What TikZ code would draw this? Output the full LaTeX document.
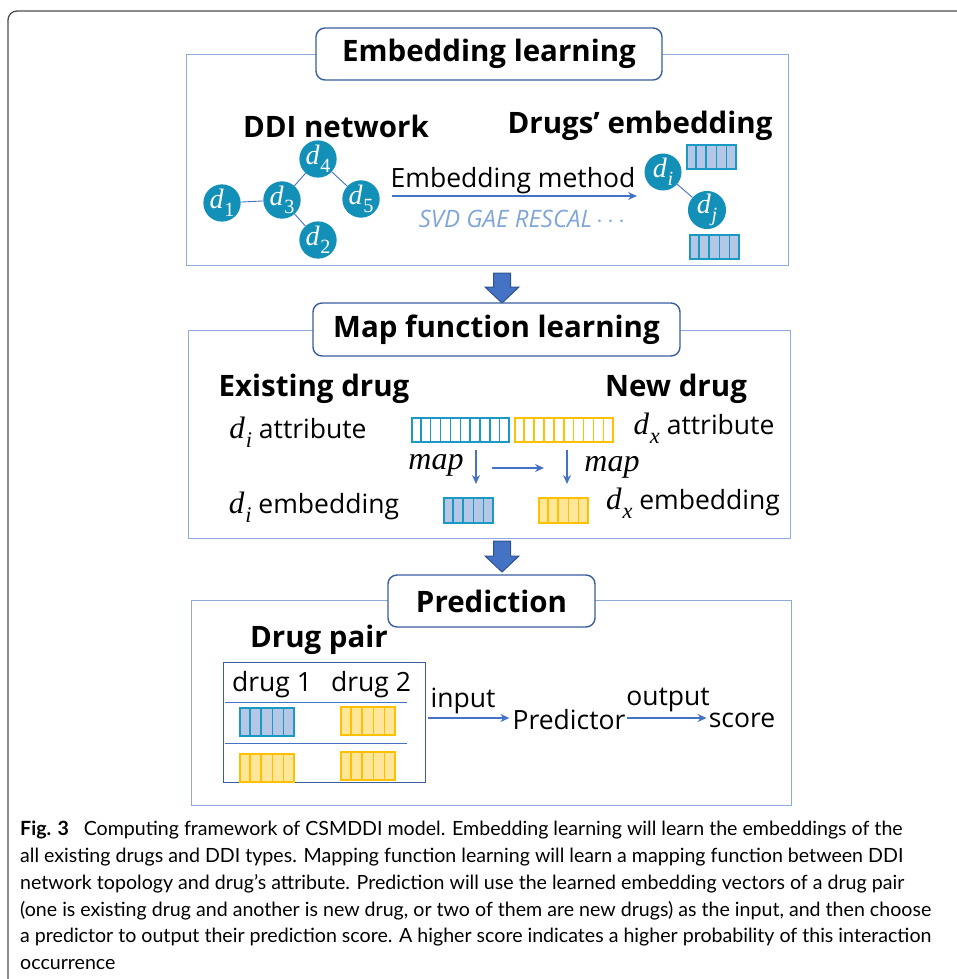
\documentclass[tikz,border=0pt]{standalone}
\usepackage{fontspec}
\setmainfont{Open Sans}
\newfontfamily\capfont{Lato}
\newfontfamily\mfont{Liberation Serif}
\usetikzlibrary{calc,arrows.meta}
\definecolor{tealn}{HTML}{1390B8}
\definecolor{tealb}{HTML}{1A9AC2}
\definecolor{bluef}{HTML}{B4C7E7}
\definecolor{yelb}{HTML}{FFC000}
\definecolor{yelf}{HTML}{FFE699}
\definecolor{arrb}{HTML}{4472C4}
\definecolor{boxl}{HTML}{8FAADC}
\definecolor{titb}{HTML}{3A5DA0}
\definecolor{blkd}{HTML}{2F528F}
\definecolor{svdc}{HTML}{7FA6D9}
\newcommand\mybar[8]{% name, x, y, w, h, cells, fill, draw
  \node[draw=#8, fill=#7, line width=1.5pt, minimum width=#4pt, minimum height=#5pt, inner sep=0pt, anchor=north west] (#1) at (#2,#3) {};
  \foreach \k in {1,...,#6}{\ifnum\k<#6
    \draw[#8, line width=1.5pt] ($(#1.north west)!{\k/#6}!(#1.north east)$) -- ($(#1.south west)!{\k/#6}!(#1.south east)$);\fi}}
\newcommand\blockarr[3]{%
  \draw[fill=arrb, draw=blkd, line width=1pt] (#1-8.5,#2) -- (#1+8.5,#2) -- (#1+8.5,#3-16) -- (#1+17,#3-16) -- (#1,#3) -- (#1-17,#3-16) -- (#1-8.5,#3-16) -- cycle;}
% italic letter with subscript, in a Cambria-like serif
\newcommand\msub[2]{{\mfont\itshape #1\kern0.03em\raisebox{-0.3em}{\scalebox{0.72}{#2}}}}
\newcommand\lsub[2]{{\fontsize{31}{31}\selectfont\msub{#1}{#2}}}
\tikzset{
  outerbox/.style={draw=boxl, line width=1.3pt, inner sep=0pt, anchor=north west},
  titlebox/.style={draw=titb, fill=white, line width=1.4pt, rounded corners=9pt, inner sep=0pt, font=\fontsize{29.5}{33}\selectfont\bfseries},
  head/.style={font=\fontsize{29.5}{32}\selectfont\bfseries, inner sep=0pt},
  lab/.style={font=\fontsize{26.5}{29}\selectfont, inner sep=0pt},
  dnode/.style={circle, fill=tealn, minimum size=37pt, inner sep=0pt, text=white, font=\fontsize{28}{28}\selectfont},
  edge/.style={draw=arrb, line width=0.9pt},
  arr/.style={draw=arrb, line width=1.4pt, -{Stealth[length=9pt,width=8pt]}},
  mapl/.style={inner sep=0pt, font=\fontsize{32}{32}\selectfont\mfont\itshape},
  capline/.style={anchor=base west, inner sep=0pt, font=\capfont\fontsize{19.6}{22}\selectfont}
}
\begin{document}
\begin{tikzpicture}[x=1pt,y=-1pt]
\useasboundingbox (0,0) rectangle (956,979);
% outer figure frame
\draw[line width=1.3pt, draw=black!70, rounded corners=9pt] (8,979) -- (8,11) -- (957,11);

% ---------- Embedding learning ----------
\node[outerbox, minimum width=602pt, minimum height=211pt] (b1) at (186,54) {};
\node[titlebox, minimum width=346pt, minimum height=52pt] (t1) at (489,54) {Embedding learning};
\node[head, text depth=0pt, anchor=base] (ddi) at (336,137) {DDI network};
\node[head] (de) at (640,126) {Drugs’ embedding};
\node[dnode] (d1) at (222,203) {\msub{d}{\upshape 1}};
\node[dnode] (d3) at (282,200) {\msub{d}{\upshape 3}};
\node[dnode] (d4) at (318,159) {\msub{d}{\upshape 4}};
\node[dnode] (d5) at (361,199) {\msub{d}{\upshape 5}};
\node[dnode] (d2) at (318,240) {\msub{d}{\upshape 2}};
\draw[edge] (d1) -- (d3);
\draw[edge] (d3) -- (d4);
\draw[edge] (d3) -- (d2);
\draw[edge] (d4) -- (d5);
\coordinate (em1) at (392,196);
\coordinate (em2) at (637,196);
\draw[arr] (em1) -- (em2);
\node[lab] (emm) at (513,181) {Embedding method};
\node[inner sep=0pt, text=svdc, font=\fontsize{24}{26}\selectfont\itshape] (svd) at (522,219) {SVD GAE RESCAL\,$\cdots$};
\node[dnode] (di) at (663,172) {\msub{d}{i}};
\node[dnode] (dj) at (707,210) {\msub{d}{j}};
\draw[edge] (di) -- (dj);
\mybar{ei}{686}{144}{49}{24}{5}{bluef}{tealb}
\mybar{ej}{689}{234}{49}{24}{5}{bluef}{tealb}

\blockarr{502}{273}{303}

% ---------- Map function learning ----------
\node[outerbox, minimum width=602pt, minimum height=208pt] (b2) at (188,330) {};
\node[titlebox, minimum width=367pt, minimum height=53pt] (t2) at (496.5,329.5) {Map function learning};
\node[head] (ex) at (314,389) {Existing drug};
\node[head] (nd) at (676,389) {New drug};
\node[lab] (dia) at (298,432) {\lsub{d}{i} attribute};
\node[lab] (dxa) at (704,428) {\lsub{d}{x} attribute};
\mybar{ia}{411}{417}{97}{24}{10}{white}{tealb}
\mybar{xa}{514}{417}{98}{24}{10}{white}{yelb}
\mybar{ie}{443}{497}{49}{25}{5}{bluef}{tealb}
\mybar{xe}{538}{497}{49}{25}{5}{yelf}{yelb}
\coordinate (m1a) at (476,450);
\coordinate (m1b) at (476,484);
\coordinate (m2a) at (567,450);
\coordinate (m2b) at (567,484);
\coordinate (h1) at (492,468);
\coordinate (h2) at (544,468);
\draw[arr] (m1a) -- (m1b);
\draw[arr] (m2a) -- (m2b);
\draw[arr] (h1) -- (h2);
\node[mapl] (map1) at (436,465) {map};
\node[mapl] (map2) at (612,467) {map};
\node[lab] (die) at (314,507) {\lsub{d}{i} embedding};
\node[lab] (dxe) at (693,503) {\lsub{d}{x} embedding};

\blockarr{502}{541}{572}

% ---------- Prediction ----------
\node[outerbox, minimum width=600pt, minimum height=205pt] (b3) at (191,600) {};
\node[titlebox, minimum width=207pt, minimum height=52pt] (t3) at (491.5,601) {Prediction};
\node[head] (dp) at (319,640) {Drug pair};
\node[draw=titb, line width=1.4pt, minimum width=202pt, minimum height=120pt, inner sep=0pt, anchor=north west] (pair) at (223,662) {};
\node[lab] (dr1) at (272,685) {drug 1};
\node[lab] (dr2) at (371,685) {drug 2};
\coordinate (l1a) at (225,702);
\coordinate (l1b) at (407,702);
\coordinate (l2a) at (225,743);
\coordinate (l2b) at (407,743);
\draw[edge] (l1a) -- (l1b);
\draw[edge] (l2a) -- (l2b);
\mybar{p11}{239}{707}{54}{28}{5}{bluef}{tealb}
\mybar{p12}{340}{706}{54}{28}{5}{yelf}{yelb}
\mybar{p21}{239}{753}{54}{28}{5}{yelf}{yelb}
\mybar{p22}{340}{751}{54}{28}{5}{yelf}{yelb}
\node[lab] (pred) at (569,720) {Predictor};
\node[lab] (score) at (742,720) {score};
\node[lab] (inp) at (463,701) {input};
\node[lab] (outp) at (668,700) {output};
\coordinate (ia1) at (428,718);
\draw[arr] (ia1) -- ([xshift=-3pt]pred.west |- ia1);
\draw[arr] ([xshift=1pt]pred.east |- ia1) -- ([xshift=-2pt]score.west |- ia1);

% ---------- caption ----------
\node[capline] (c1) at (20,835) {\textbf{Fig. 3}\hspace{0.5em} Computing framework of CSMDDI model. Embedding learning will learn the embeddings of the};
\node[capline] (c2) at (20,862) {all existing drugs and DDI types. Mapping function learning will learn a mapping function between DDI};
\node[capline] (c3) at (20,889) {network topology and drug’s attribute. Prediction will use the learned embedding vectors of a drug pair};
\node[capline] (c4) at (20,916) {(one is existing drug and another is new drug, or two of them are new drugs) as the input, and then choose};
\node[capline] (c5) at (20,942) {a predictor to output their prediction score. A higher score indicates a higher probability of this interaction};
\node[capline] (c6) at (20,969) {occurrence};
\end{tikzpicture}
\end{document}
